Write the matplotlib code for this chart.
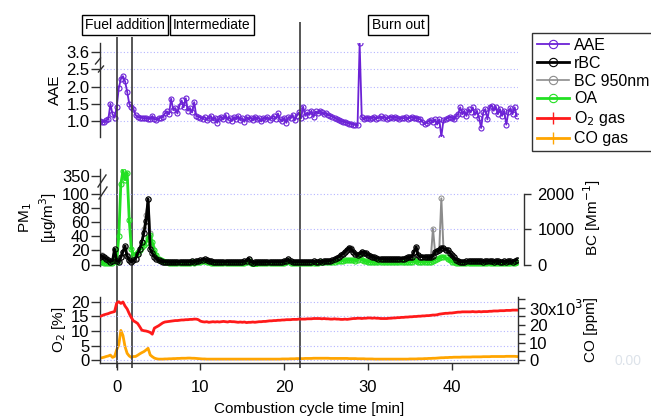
import numpy as np
import matplotlib.pyplot as plt
from matplotlib.lines import Line2D

plt.rcParams['font.family'] = ['Liberation Sans', 'DejaVu Sans']

W, H = 651, 418

# all series sampled every 0.25 min starting at -2 min
t_start = -2.0
step = 0.25

aae = [
    1.00, 0.97, 0.98, 1.02, 1.05, 1.50, 1.20, 1.10,
    1.40, 1.95, 2.22, 2.30, 2.15, 1.85, 1.50, 1.42,
    1.35, 1.18, 1.12, 1.10, 1.10, 1.08, 1.09, 1.07,
    1.06, 1.15, 1.05, 1.04, 1.08, 1.10, 1.12, 1.22,
    1.28, 1.20, 1.65, 1.32, 1.38, 1.22, 1.45, 1.60,
    1.40, 1.66, 1.30, 1.38, 1.25, 1.55, 1.15, 1.12,
    1.10, 1.06, 1.12, 1.04, 1.08, 1.15, 1.02, 1.10,
    0.95, 1.08, 1.12, 1.05, 1.18, 1.04, 1.10, 1.00,
    1.12, 1.06, 1.15, 1.03, 1.09, 0.98, 1.12, 1.05,
    1.10, 1.02, 1.13, 1.06, 1.08, 0.99, 1.10, 1.05,
    1.12, 1.04, 1.09, 1.15, 1.07, 1.22, 1.05, 1.00,
    1.10, 0.95, 1.12, 1.08, 1.18, 1.02, 1.15, 1.25,
    1.08, 1.42, 1.15, 1.25, 1.18, 1.30, 1.12, 1.28,
    1.22, 1.30, 1.25, 1.20, 1.22, 1.18, 1.15, 1.12,
    1.10, 1.06, 1.03, 1.00, 0.98, 0.97, 0.95, 0.93,
    0.92, 0.90, 0.89, 0.88, 3.85, 1.12, 1.05, 1.08,
    1.10, 1.06, 1.09, 1.12, 1.07, 1.10, 1.14, 1.08,
    1.11, 1.06, 1.10, 1.13, 1.08, 1.12, 1.09, 1.05,
    1.10, 1.08, 1.11, 1.07, 1.10, 1.12, 1.08, 1.10,
    1.06, 1.05, 0.98, 0.92, 0.95, 1.00, 1.02, 0.97,
    1.05, 0.90, 1.05, 0.55, 1.02, 1.05, 1.08, 1.12,
    1.10, 1.05, 1.15, 1.20, 1.40, 1.20, 1.30, 1.15,
    1.35, 1.25, 1.40, 1.18, 1.30, 1.10, 0.80, 1.25,
    1.35, 1.05, 1.40, 1.45, 1.30, 1.42, 1.20, 1.35,
    1.15, 1.30, 0.90, 1.25, 1.38, 1.20, 1.40, 1.15,
]

rbc = [
    11, 12, 10, 8, 6, 4, 5, 22,
    5, 4, 10, 18, 26, 12, 6, 4,
    6, 8, 15, 22, 32, 45, 62, 93,
    22, 16, 11, 8, 6, 5, 4, 4,
    3.5, 3.5, 3, 3.5, 3, 3.5, 3.5, 4,
    4, 3.5, 4, 4, 4.5, 4, 4.5, 5,
    6, 7, 7.5, 6.5, 5, 4.5, 4, 4,
    3.5, 4, 3.5, 3.5, 4, 3.5, 3.5, 4,
    3.5, 4, 3.5, 3.5, 4, 4.5, 5.5, 8.5,
    4, 2.5, 3, 3, 3.5, 3, 3.5, 3.5,
    3.5, 3.5, 4, 3.5, 4, 4, 3.5, 4,
    4.5, 5.5, 7.5, 4.5, 3.5, 3.5, 4, 4,
    4, 4, 3.5, 4, 4, 4, 4.5, 4,
    4, 4.5, 4, 4.5, 5, 5, 5.5, 6,
    8, 9, 11, 13, 15, 18, 21, 24,
    22, 18, 15, 13, 15, 18, 17, 16,
    14, 12, 11, 10, 9, 8.5, 8, 8,
    7.5, 7.5, 7.5, 7.5, 7.5, 8, 8, 8,
    8.5, 8.5, 9, 10, 10, 11, 18, 25,
    13, 11, 11, 11, 10, 10, 10, 12,
    18, 19, 20, 24, 23, 21, 20, 17,
    13, 10, 7, 5, 4, 4, 4, 4.5,
    5, 4.5, 5, 4.5, 4.5, 5, 4.5, 4,
    4.5, 4.5, 5, 4.5, 4, 4.5, 4.5, 4,
    4, 4.5, 4, 4.5, 4.5, 4, 5, 7,
]

bc950 = [
    260, 280, 220, 180, 130, 90, 110, 420,
    110, 90, 200, 360, 500, 260, 130, 90,
    130, 180, 300, 440, 640, 1000, 1400, 1860,
    900, 500, 280, 180, 130, 100, 80, 80,
    70, 70, 60, 70, 60, 70, 70, 80,
    80, 70, 80, 80, 90, 80, 90, 100,
    120, 140, 150, 130, 100, 90, 80, 80,
    70, 80, 70, 70, 80, 70, 70, 80,
    70, 80, 70, 70, 80, 90, 110, 170,
    80, 50, 60, 60, 70, 60, 70, 70,
    70, 70, 80, 70, 80, 80, 70, 80,
    90, 110, 150, 90, 70, 70, 80, 80,
    80, 80, 70, 80, 80, 80, 90, 80,
    80, 90, 80, 90, 100, 100, 110, 120,
    160, 180, 220, 260, 300, 360, 420, 480,
    460, 360, 260, 150, 300, 360, 330, 300,
    260, 230, 210, 190, 170, 160, 150, 150,
    150, 150, 150, 150, 150, 160, 160, 160,
    170, 170, 180, 200, 200, 220, 360, 480,
    260, 220, 220, 220, 200, 200, 200, 1020,
    360, 380, 400, 1880, 460, 420, 400, 340,
    260, 200, 140, 100, 80, 80, 80, 90,
    100, 90, 100, 90, 90, 100, 90, 80,
    90, 90, 100, 90, 80, 90, 90, 80,
    80, 90, 80, 90, 90, 80, 100, 140,
]

oa = [
    4, 3, 2, 1.5, 1.5, 1.5, 1.5, 8,
    3, 40, 330, 358, 345, 355, 63, 22,
    13, 15, 18, 21, 25, 28, 31, 38,
    42, 32, 20, 13, 8, 6, 4.5, 4,
    3, 2.5, 2.5, 2, 2, 2.5, 2, 2,
    2, 2.5, 2.5, 2, 3, 2.5, 3, 3.5,
    4, 5, 5, 4, 3, 2.5, 2, 2,
    2, 2, 2.5, 2, 2, 2.5, 2, 2,
    2, 2.5, 2, 2, 2.5, 2.5, 3, 5,
    2, 0.5, 1, 1.5, 2, 2, 1.5, 2,
    2, 2, 2.5, 2, 2, 2.5, 2, 2,
    2.5, 3.5, 4.5, 2.5, 2, 2, 2, 2,
    2, 2, 2, 2, 2.5, 2.5, 2.5, 2.5,
    2.5, 3, 3, 3, 3, 3.5, 3.5, 4,
    4, 4.5, 4.5, 5, 5.5, 6, 6, 6,
    6, 6, 5.5, 6, 11, 7, 5, 4.5,
    4, 3.5, 3.5, 3, 3, 3, 3, 3,
    3, 3, 3, 3, 3, 3, 3, 3,
    3, 3, 3.5, 3.5, 3.5, 4, 6, 5,
    4, 3.5, 3.5, 3.5, 3.5, 3.5, 4, 5,
    7, 8, 9, 11, 11, 10, 8, 6,
    4, 3, 2, 1.5, 1.5, 1.5, 1.5, 2,
    1.5, 1.5, 2, 1.5, 1.5, 2, 1.5, 1.5,
    1.5, 1.5, 2, 1.5, 1.5, 1.5, 2, 1.5,
    1.5, 1.5, 2, 1.5, 1.5, 1.5, 2, 3,
]

o2 = [
    15.0, 15.3, 15.6, 15.8, 16.0, 16.3, 16.5, 16.7,
    19.6, 20.1, 19.5, 20.0, 18.6, 17.6, 16.0, 14.6,
    13.5, 13.1, 12.6, 11.5, 10.3, 10.1, 10.0, 9.8,
    9.5, 8.9, 11.0, 11.4, 11.8, 12.3, 12.8, 13.1,
    13.2, 13.3, 13.4, 13.5, 13.6, 13.6, 13.7, 13.8,
    13.8, 13.9, 13.9, 14.0, 14.0, 14.1, 14.1, 13.9,
    13.4, 13.2, 13.1, 13.2, 13.0, 13.1, 13.2, 13.1,
    13.2, 13.1, 13.2, 13.3, 13.2, 13.1, 13.3, 13.2,
    13.2, 13.1, 13.0, 13.1, 13.0, 13.1, 12.9, 13.0,
    13.0, 13.1, 13.0, 13.1, 13.2, 13.2, 13.3, 13.3,
    13.4, 13.5, 13.5, 13.6, 13.6, 13.7, 13.7, 13.8,
    13.8, 13.9, 13.9, 13.9, 14.0, 14.0, 14.0, 14.1,
    14.1, 14.1, 14.1, 14.2, 14.2, 14.2, 14.3, 14.3,
    14.3, 14.3, 14.2, 14.3, 14.2, 14.2, 14.1, 14.1,
    14.2, 14.1, 14.1, 14.0, 14.0, 14.1, 14.0, 14.1,
    14.2, 14.3, 14.3, 14.4, 14.4, 14.3, 14.4, 14.4,
    14.5, 14.5, 14.4, 14.5, 14.4, 14.4, 14.3, 14.3,
    14.3, 14.3, 14.4, 14.4, 14.5, 14.5, 14.6, 14.6,
    14.7, 14.7, 14.8, 14.8, 14.9, 14.9, 15.0, 15.0,
    15.1, 15.1, 15.2, 15.2, 15.3, 15.3, 15.4, 15.5,
    15.5, 15.6, 15.8, 15.9, 16.0, 16.1, 16.1, 16.2,
    16.2, 16.3, 16.4, 16.5, 16.5, 16.6, 16.6, 16.6,
    16.6, 16.6, 16.7, 16.6, 16.6, 16.7, 16.6, 16.7,
    16.7, 16.7, 16.8, 16.8, 16.9, 16.9, 16.9, 17.0,
    17.0, 17.0, 17.1, 17.1, 17.1, 17.2, 17.2, 17.2,
]

co = [
    1000, 1300, 1600, 2000, 2300, 2800, 1500, 2000,
    5800, 8600, 16900, 14000, 7600, 3800, 2300, 1500,
    2000, 2000, 2700, 3500, 4200, 4800, 5700, 6700,
    2900, 1900, 1100, 700, 500, 500, 500, 600,
    600, 700, 700, 800, 800, 900, 900, 1000,
    1000, 1000, 1100, 1100, 1000, 1000, 900, 800,
    700, 600, 600, 500, 500, 500, 500, 500,
    500, 500, 500, 500, 500, 500, 500, 500,
    500, 500, 500, 500, 500, 500, 500, 500,
    500, 500, 500, 500, 500, 500, 500, 500,
    500, 500, 500, 500, 500, 500, 500, 600,
    600, 600, 600, 700, 700, 700, 800, 800,
    800, 800, 900, 900, 900, 900, 1000, 1000,
    1000, 1000, 1000, 1000, 1000, 1000, 900, 900,
    900, 900, 900, 900, 900, 900, 900, 800,
    800, 800, 800, 700, 700, 700, 700, 600,
    600, 600, 600, 500, 500, 500, 500, 500,
    500, 500, 500, 500, 500, 500, 500, 500,
    500, 500, 500, 500, 600, 600, 600, 600,
    700, 700, 700, 800, 800, 900, 900, 1000,
    1000, 1100, 1200, 1300, 1300, 1400, 1400, 1500,
    1500, 1600, 1600, 1600, 1600, 1700, 1700, 1700,
    1700, 1700, 1800, 1800, 1800, 1800, 1800, 1900,
    1900, 1900, 1900, 2000, 2000, 2000, 2000, 2000,
    2000, 2000, 2100, 2100, 2100, 2100, 2100, 2000,
]

phase_lines = [0.0, 1.83, 21.9]
phase_names = ['Fuel addition', 'Intermediate', 'Burn out']

t = t_start + step * np.arange(len(aae))

c_aae = '#6c22d6'
c_bc = '#8c8c8c'
c_oa = '#22e022'
c_o2 = '#ff1a1a'
c_co = '#ffa500'
c_grid = '#b4b4ff'
c_axis = '#303030'
XLIM = (-1.99, 47.9)
TICK = 12
LAB = 11


def box(top, bottom, left=100, right=518):
    return [left / W, 1 - bottom / H, (right - left) / W, (bottom - top) / H]


def style(ax, sides):
    for s in ['left', 'right', 'top', 'bottom']:
        ax.spines[s].set_visible(s in sides)
        ax.spines[s].set_color(c_axis)
        ax.spines[s].set_linewidth(1.0)
    ax.patch.set_alpha(0)
    ax.set_xlim(*XLIM)


def hgrid(ax, vals):
    for v in vals:
        ax.axhline(v, color=c_grid, lw=0.8, ls=(0, (1, 2)), zorder=0)


fig = plt.figure(figsize=(W / 100, H / 100), dpi=100)

# ---- AAE panel (broken axis between 2.5 and 3.6)
aae_in = [-10, 2.6, 3.5, 20]
aae_out = [-10, 2.6, 2.9, 19.4]
ax1 = fig.add_axes(box(43, 137))
ax1.set_yscale('function', functions=(lambda y: np.interp(y, aae_in, aae_out),
                                      lambda y: np.interp(y, aae_out, aae_in)))
style(ax1, ['left'])
ax1.set_ylim(0.54, 3.86)
hgrid(ax1, [1.0, 1.5, 2.0, 2.5, 3.6])
ax1.plot(t, aae, color=c_aae, lw=1.3, marker='o', ms=3.6, mfc='none', mew=0.8)
ax1.set_yticks([1.0, 1.5, 2.0, 2.5, 3.6])
ax1.set_yticklabels(['1.0', '1.5', '2.0', '2.5', '3.6'])
ax1.set_xticks([])
ax1.tick_params(axis='y', direction='out', length=6.5, width=1, pad=1, labelsize=TICK, color=c_axis)
ax1.set_ylabel('AAE', fontsize=LAB, labelpad=3)

# ---- PM1 panel (broken axis between 100 and 350) + BC on right
pm_in = [-1000, 102, 340, 5000]
pm_out = [-1000, 102, 115.4, 4775.4]
ax2 = fig.add_axes(box(169, 266))
ax2.set_yscale('function', functions=(lambda y: np.interp(y, pm_in, pm_out),
                                      lambda y: np.interp(y, pm_out, pm_in)))
style(ax2, ['left'])
ax2.set_ylim(-2.13, 360.4)
ax2b = ax2.twinx()
style(ax2b, ['right'])
ax2b.set_ylim(-42.6, 2716)
ax2b.spines['right'].set_bounds(0, 2000)
ax2b.spines['right'].set_position(('outward', 4))
hgrid(ax2, [0, 50, 100])
ax2b.plot(t, bc950, color=c_bc, lw=1.4, marker='o', ms=3.6, mfc='none', mew=0.7, zorder=1)
ax2.plot(t, oa, color=c_oa, lw=2.0, marker='o', ms=3.6, mfc='none', mew=0.8, zorder=2)
ax2.plot(t, rbc, color='black', lw=2.0, marker='o', ms=3.8, mfc='none', mew=0.8, zorder=3)
ax2.set_zorder(ax2b.get_zorder() + 1)
ax2.set_yticks([0, 20, 40, 60, 80, 100, 350])
ax2.set_xticks([])
ax2b.set_xticks([])
ax2.tick_params(axis='y', direction='out', length=6.5, width=1, pad=1, labelsize=TICK, color=c_axis)
ax2b.set_yticks([0, 1000, 2000])
ax2b.tick_params(axis='y', direction='out', length=5, width=1, pad=5, labelsize=TICK, color=c_axis)
ax2.set_ylabel('PM$_1$\n[µg/m$^3$]', fontsize=LAB, labelpad=2, multialignment='center')
ax2b.set_ylabel('BC [Mm$^{-1}$]', fontsize=LAB, labelpad=5)

# ---- O2 / CO panel
ax3 = fig.add_axes(box(297, 363))
style(ax3, ['left', 'bottom'])
ax3.set_ylim(-1.03, 21.72)
hgrid(ax3, [0, 5, 10, 15, 20])
ax3b = ax3.twinx()
style(ax3b, ['right'])
ax3b.set_ylim(-1714, 36000)
ax3.plot(t, o2, color=c_o2, lw=2.0, zorder=3)
ax3b.plot(t, co, color=c_co, lw=2.0, zorder=2)
ax3.set_zorder(ax3b.get_zorder() + 1)
ax3.set_yticks([0, 5, 10, 15, 20])
ax3.set_xticks([0, 10, 20, 30, 40])
ax3.tick_params(axis='y', direction='out', length=6.5, width=1, pad=1, labelsize=TICK, color=c_axis)
ax3.tick_params(axis='x', direction='out', length=5, width=1, pad=7, labelsize=TICK, color=c_axis)
ax3b.set_yticks(np.arange(0, 35001, 5000))
ax3b.set_yticklabels(['0', '', '10', '', '20', '', '30x10$^3$', ''])
ax3b.tick_params(axis='y', direction='out', length=5, width=1, pad=3, labelsize=TICK, color=c_axis)
ax3.set_ylabel('O$_2$ [%]', fontsize=LAB, labelpad=2)
ax3b.set_ylabel('CO [ppm]', fontsize=LAB, labelpad=1)
ax3.set_xlabel('Combustion cycle time [min]', fontsize=LAB, labelpad=5)

# ---- phase markers spanning all panels
ov = fig.add_axes(box(0, H))
ov.set_xlim(*XLIM)
ov.set_ylim(H, 0)
ov.axis('off')
ov.vlines(phase_lines[:2], 37, 368, color='#3a3a3a', lw=1.2)
ov.vlines(phase_lines[2:], 22, 368, color='#3a3a3a', lw=1.2)

for name, x in zip(phase_names, [125, 212, 398]):
    fig.text(x / W, 1 - 25 / H, name, ha='center', va='center', fontsize=10,
             bbox=dict(boxstyle='square,pad=0.25', fc='white', ec='black', lw=1))


# axis break marks
def slash(xc, yc, dx, dy):
    fig.add_artist(Line2D([(xc - dx) / W, (xc + dx) / W], [1 - (yc + dy) / H, 1 - (yc - dy) / H],
                          color=c_axis, lw=1.0))


slash(98, 61, 2.5, 3)
slash(101, 69, 2.5, 3)
slash(102, 181, 4, 6)
slash(103, 193, 4, 6)

# faint leftover label
fig.text(628 / W, 1 - 361 / H, '0.00', ha='center', va='center', fontsize=10, color='#dde3ea')

handles = [
    Line2D([], [], color=c_aae, lw=1.3, marker='o', ms=6, mfc='none', mew=0.8),
    Line2D([], [], color='black', lw=2.0, marker='o', ms=6, mfc='none', mew=0.8),
    Line2D([], [], color=c_bc, lw=1.2, marker='o', ms=6, mfc='none', mew=0.8),
    Line2D([], [], color=c_oa, lw=2.0, marker='o', ms=6, mfc='none', mew=0.8),
    Line2D([], [], color=c_o2, lw=2.0, marker='+', ms=8, mew=1.0),
    Line2D([], [], color=c_co, lw=2.0, marker='+', ms=8, mew=1.0),
]
labels = ['AAE', 'rBC', 'BC 950nm', 'OA', 'O$_2$ gas', 'CO gas']
leg = fig.legend(handles, labels, loc='upper left', bbox_to_anchor=(532 / W, 1 - 33 / H),
                 frameon=True, fancybox=False, edgecolor='black', fontsize=11.5,
                 borderaxespad=0, borderpad=0.3, labelspacing=0.18, handlelength=2.0,
                 handletextpad=0.35)
leg.get_frame().set_linewidth(1.0)

fig.savefig('out.png', dpi=100)
